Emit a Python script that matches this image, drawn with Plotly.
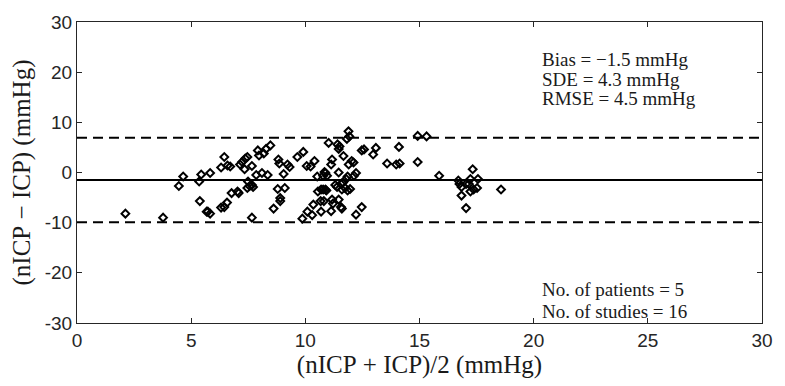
import plotly.graph_objects as go

mean_vals = [2.12, 3.77, 4.46, 4.65, 5.35, 5.44, 5.38, 5.68,
             5.83, 5.73, 5.83, 6.31, 6.45, 6.59, 6.71, 6.31, 6.45, 6.57,
             6.77, 7.03, 7.08, 7.14, 7.23, 7.37, 7.46, 7.34, 7.49, 7.46,
             7.56, 7.66, 7.71, 7.66, 7.66, 7.85, 7.97, 7.92, 8.10, 8.18,
             8.35, 8.28, 8.47, 8.82, 8.86, 9.22, 9.31, 8.79, 9.10, 8.90,
             8.90, 8.61, 9.05, 9.65, 9.91, 10.06, 10.23, 10.40, 10.52, 9.87,
             10.09, 10.30, 10.35, 10.55, 10.69, 10.78, 10.88, 10.67, 10.81, 10.69,
             10.84,
             11.02, 11.41, 11.46, 11.50, 11.89, 11.82, 11.93, 11.17, 11.13, 11.67,
             12.47, 12.57, 12.97, 13.09, 14.10, 13.58, 13.98, 14.13, 14.92, 15.31,
             14.92, 15.86, 11.90, 12.03, 12.11, 11.46, 10.88, 10.78, 10.95, 12.22,
             12.13, 11.85, 11.79, 11.65, 11.56, 11.31, 11.39, 11.60, 11.74, 11.85,
             11.96, 10.92, 11.17, 11.21, 11.46, 11.56, 11.13, 11.60, 12.22, 12.47,
             16.70, 16.75, 16.84, 16.84, 17.04, 17.16, 17.23, 17.33, 17.23, 17.37,
             17.52, 17.56, 17.04, 18.57]

diff_vals = [-8.2, -9.0, -2.7, -0.8, -1.8, -0.4, -5.7, -7.8,
             -0.1, -7.8, -8.2, 1.0, 3.1, 1.4, 1.2, -7.0, -6.9, -6.0,
             -4.1, -3.8, -4.1, 1.6, 2.1, 2.8, 3.1, 0.65, -1.8, -3.1,
             -2.7, -2.5, -2.9, 1.3, -9.0, -0.5, 3.4, 4.4, -0.1, 3.8,
             -0.5, 4.7, 5.4, 2.6, 1.8, 1.6, 1.1, -3.3, -3.1, -5.1,
             -5.7, -7.2, -0.3, 3.1, 4.1, 1.3, 1.2, 2.3, -0.8, -9.2,
             -7.8, -8.5, -6.4, -3.8, -3.4, -3.4, -3.4, -5.7, -5.7, -7.8,
             0.1,
             5.9, 5.6, 4.7, 5.2, 8.2, 6.7, 7.2, 2.6, 1.6, 3.3,
             4.4, 4.6, 3.6, 4.9, 5.1, 1.8, 1.6, 1.8, 7.3, 7.2,
             2.1, -0.65, 1.6, 2.3, 2.0, 0.0, -0.1, -0.65, -0.65, -0.1,
             -0.65, -0.8, -1.3, -2.0, -2.3, -2.5, -2.9, -3.4, -3.1, -3.6,
             -3.3, -3.6, -5.4, -6.2, -5.4, -6.9, -7.7, -7.2, -8.4, -6.9,
             -1.6, -2.3, -2.9, -4.6, -2.3, -2.3, -1.3, 0.65, -3.8, -3.4,
             -3.1, -1.3, -7.1, -3.4]

bias = -1.5
sde = 4.3
rmse = 4.5
n_patients = 5
n_studies = 16

x_ticks = [0, 5, 10, 15, 20, 25, 30]
y_ticks = [-30, -20, -10, 0, 10, 20, 30]
y_tick_text = ["-30", "-20", "-10", "0", "10", "20", "30"]

upper = bias + 1.96 * sde
lower = bias - 1.96 * sde

axis_col = "#262626"
serif = "Liberation Serif"
sans = "Liberation Sans"
NB = "\u00a0"

fig = go.Figure()
fig.add_trace(go.Scatter(
    x=mean_vals, y=diff_vals, mode="markers",
    marker=dict(symbol="diamond-open", size=6, color="black",
                line=dict(width=2, color="black")),
    showlegend=False, hoverinfo="skip"))

fig.add_hline(y=bias, line=dict(color="black", width=2))
fig.add_hline(y=upper, line=dict(color="black", width=2, dash="10px,6px"))
fig.add_hline(y=lower, line=dict(color="black", width=2, dash="10px,6px"))

stats_lines = [f"Bias{NB}={NB}\u2212{abs(bias):.1f} mmHg",
               f"SDE{NB}={NB}{sde:.1f} mmHg",
               f"RMSE{NB}={NB}{rmse:.1f} mmHg"]
for i, t in enumerate(stats_lines):
    fig.add_annotation(x=545, y=55 + 20 * i, xref="x domain", yref="y domain",
                       text=t, showarrow=False, xanchor="left", yanchor="middle",
                       font=dict(family=serif, size=19, color="#1a1a1a"))

count_lines = [f"No.{NB}of patients{NB}={NB}{n_patients}",
               f"No.{NB}of studies{NB}={NB}{n_studies}"]
for i, t in enumerate(count_lines):
    fig.add_annotation(x=545, y=289 + 22 * i, xref="x domain", yref="y domain",
                       text=t, showarrow=False, xanchor="left", yanchor="middle",
                       font=dict(family=serif, size=19, color="#1a1a1a"))

L, R, T, B = 77, 15, 17, 63
W, H = 785, 386
pw, ph = W - L - R, H - T - B
for ann in fig.layout.annotations:
    ann.x = (ann.x - L) / pw
    ann.y = 1 - (ann.y - T) / ph

fig.update_xaxes(range=[0, 30], tickvals=x_ticks, ticks="inside", ticklen=5,
                 tickwidth=1, tickcolor=axis_col, showline=True, linecolor=axis_col,
                 linewidth=1, mirror="allticks", showgrid=False, zeroline=False,
                 tickfont=dict(family=sans, size=19, color=axis_col),
                 title=dict(text=f"(nICP{NB}+{NB}ICP)/2{NB}(mmHg)", standoff=5,
                            font=dict(family=serif, size=25, color="#1a1a1a")))
fig.update_yaxes(range=[-30, 30], tickvals=y_ticks, ticktext=y_tick_text,
                 ticks="inside", ticklen=5, tickwidth=1, tickcolor=axis_col,
                 showline=True, linecolor=axis_col, linewidth=1, mirror="allticks",
                 showgrid=False, zeroline=False,
                 tickfont=dict(family=sans, size=19, color=axis_col),
                 title=dict(text=f"(nICP{NB}\u2212{NB}ICP){NB}(mmHg)", standoff=6,
                            font=dict(family=serif, size=25, color="#1a1a1a")))

fig.update_layout(width=W, height=H, margin=dict(l=L, r=R, t=T, b=B),
                  paper_bgcolor="white", plot_bgcolor="white")

fig.write_html("out.html")
